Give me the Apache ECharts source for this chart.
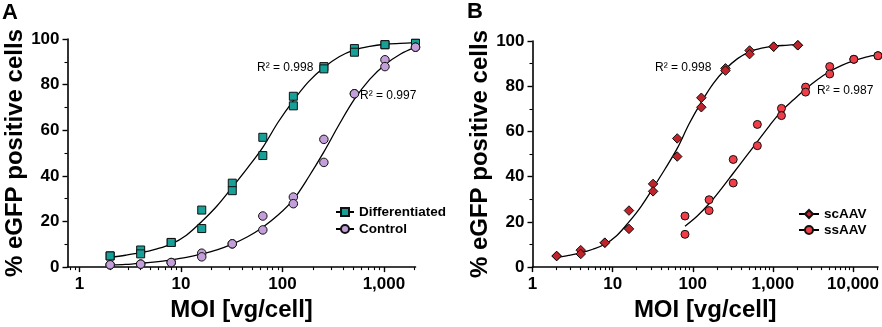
<!DOCTYPE html>
<html><head><meta charset="utf-8">
<script src="https://cdn.jsdelivr.net/npm/echarts@6/dist/echarts.min.js"></script>
<style>html,body{margin:0;padding:0;background:#fff}#c{width:882px;height:327px}</style>
</head><body><div id="c"></div><script>
// ---------- data ----------
const moiA = [2, 4, 8, 16, 32, 64, 128, 256, 512, 1024, 2048];
const diffRep1 = [4.9, 7.5, 10.8, 25.0, 36.8, 56.9, 74.9, 87.9, 95.8, 97.5, 98.1];
const diffRep2 = [4.9, 5.8, 10.8, 16.9, 33.5, 48.9, 70.7, 86.9, 94.2, 97.5, 98.1];
const ctrlRep1 = [1.0, 1.3, 2.0, 6.1, 10.2, 22.4, 30.7, 56.0, 76.0, 90.9, 96.4];
const ctrlRep2 = [1.0, 1.3, 2.0, 4.5, 10.2, 16.3, 27.8, 45.9, 76.0, 87.9, 96.4];
const fitMoiA = [2, 2.83, 4, 5.66, 8, 11.3, 16, 22.6, 32, 45.3, 64, 90.5, 128, 181, 256, 362, 512, 724, 1024, 1448, 2048];
const diffFit = [4.3, 5.2, 6.3, 7.9, 10.1, 14.0, 20.0, 26.8, 35.0, 43.5, 52.5, 63.5, 73.0, 81.3, 87.5, 92.2, 95.2, 96.8, 97.7, 98.1, 98.4];
const ctrlFit = [0.9, 1.2, 1.7, 2.3, 3.2, 4.3, 5.8, 7.6, 10.1, 13.3, 17.5, 22.8, 29.6, 39.5, 50.5, 62.5, 73.6, 82.3, 88.7, 93.3, 96.4];
// panel B: scAAV identical to Differentiated
const scRep1 = diffRep1, scRep2 = diffRep2, scFit = diffFit;
const moiSs = [80, 160, 320, 640, 1280, 2560, 5120, 10240, 20480];
const ssRep1 = [22.6, 29.8, 47.6, 63.1, 70.2, 79.6, 88.7, 91.9, 93.5];
const ssRep2 = [14.5, 25.0, 37.2, 53.7, 67.0, 77.4, 85.4, 91.9, 93.5];
const fitMoiSs = [80, 113, 160, 226, 320, 453, 640, 905, 1280, 1810, 2560, 3620, 5120, 7240, 10240, 14480, 20480];
const ssFit = [18.1, 22.5, 28.0, 34.5, 41.5, 48.5, 55.5, 62.5, 69.0, 74.0, 78.8, 83.0, 86.5, 89.2, 91.3, 92.9, 94.0];
const xMajorA = [1, 10, 100, 1000];
const xMajorB = [1, 10, 100, 1000, 10000];
const xRangeA = [0.76, 2048];
const xRangeB = [1, 20480];
const r2Labels = ['R² = 0.998', 'R² = 0.997', 'R² = 0.998', 'R² = 0.987'];
const namesA = ['Differentiated', 'Control'];
const namesB = ['scAAV', 'ssAAV'];

// ---------- helpers ----------
const L = Math.log10;
const pts = (x, ys) => x.map((m, i) => [L(m), ys[i]]);
const reps = (x, a, b) => pts(x, a).concat(pts(x, b));
function minors(lo, hi) {
  const out = [];
  for (let d = Math.floor(L(lo)); d <= Math.ceil(L(hi)); d++)
    for (let k = 2; k <= 9; k++) {
      const v = k * Math.pow(10, d);
      if (v >= lo && v <= hi) out.push(L(v));
    }
  return out;
}
const FONT = "'Liberation Sans', Arial, Helvetica, sans-serif";
const fmt = v => Math.round(Math.pow(10, v)).toLocaleString('en-US');

function xAxes(g, range, majors) {
  const base = { gridIndex: g, type: 'value', min: L(range[0]), max: L(range[1]), splitLine: { show: false } };
  return [
    Object.assign({}, base, {
      position: 'bottom',
      name: 'MOI [vg/cell]', nameLocation: 'middle', nameGap: 27,
      nameTextStyle: { fontFamily: FONT, fontWeight: 'bold', fontSize: 24, color: '#000' },
      axisLine: { show: true, onZero: false, lineStyle: { color: '#000', width: 1.6 } },
      axisTick: { show: true, length: 5, customValues: majors.map(L), lineStyle: { color: '#000', width: 1.4 } },
      axisLabel: { show: true, customValues: majors.map(L), formatter: fmt, margin: 9,
        fontFamily: FONT, fontWeight: 'bold', fontSize: 17, color: '#000' }
    }),
    Object.assign({}, base, {
      position: 'bottom',
      axisLine: { show: false, onZero: false },
      axisTick: { show: true, length: 3, customValues: minors(range[0], range[1]), lineStyle: { color: '#000', width: 1.1 } },
      axisLabel: { show: false }
    })
  ];
}
function yAxis(g) {
  return {
    gridIndex: g, type: 'value', min: 0, max: 100, interval: 20,
    name: '% eGFP positive cells', nameLocation: 'middle', nameGap: 40,
    nameTextStyle: { fontFamily: FONT, fontWeight: 'bold', fontSize: 24, color: '#000' },
    axisLine: { show: true, onZero: false, lineStyle: { color: '#000', width: 1.6 } },
    axisTick: { show: true, length: 5, lineStyle: { color: '#000', width: 1.4 } },
    minorTick: { show: true, splitNumber: 2, length: 3, lineStyle: { color: '#000', width: 1.1 } },
    splitLine: { show: false },
    axisLabel: { margin: 8, fontFamily: FONT, fontWeight: 'bold', fontSize: 17, color: '#000' }
  };
}
function scatter(name, xi, yi, data, symbol, size, color) {
  return { type: 'scatter', name: name + ' data', xAxisIndex: xi, yAxisIndex: yi, data, symbol, symbolSize: size, z: 5,
    itemStyle: { color, borderColor: '#111', borderWidth: 1, opacity: 1 }, emphasis: { disabled: true } };
}
function fit(name, xi, yi, data, symbol, size, color) {
  return { type: 'line', name, xAxisIndex: xi, yAxisIndex: yi, data, smooth: 0.35, showSymbol: false,
    symbol, symbolSize: size, z: 3,
    lineStyle: { color: '#000', width: 1.3 }, itemStyle: { color, borderColor: '#111', borderWidth: 1 },
    emphasis: { disabled: true } };
}
const TEAL = '#17a097', PURPLE = '#c39fd9', DRED = '#c1232b', RED = '#f23d48';

const chart = echarts.init(document.getElementById('c'), null, { renderer: 'canvas' });
const legendText = { fontFamily: FONT, fontWeight: 'bold', fontSize: 13.5, color: '#000' };
chart.setOption({
  animation: false,
  backgroundColor: '#fff',
  grid: [
    { left: 67.5, top: 39, width: 348, height: 231 },
    { left: 532.5, top: 41, width: 346.2, height: 230 }
  ],
  xAxis: xAxes(0, xRangeA, xMajorA).concat(xAxes(1, xRangeB, xMajorB)),
  yAxis: [yAxis(0), yAxis(1)],
  legend: [
    { data: namesA, orient: 'vertical', left: 330, top: 200, itemWidth: 18, itemHeight: 10, itemGap: 3,
      textStyle: legendText, selectedMode: false },
    { data: namesB, orient: 'vertical', left: 793, top: 202, itemWidth: 20, itemHeight: 10, itemGap: 2,
      textStyle: legendText, selectedMode: false }
  ],
  series: [
    fit(namesA[0], 0, 0, pts(fitMoiA, diffFit), 'rect', 8, TEAL),
    fit(namesA[1], 0, 0, pts(fitMoiA, ctrlFit), 'circle', 8, PURPLE),
    scatter(namesA[0], 0, 0, reps(moiA, diffRep1, diffRep2), 'rect', 8, TEAL),
    scatter(namesA[1], 0, 0, reps(moiA, ctrlRep1, ctrlRep2), 'circle', 8.5, PURPLE),
    fit(namesB[0], 2, 1, pts(fitMoiA, scFit), 'diamond', 9, DRED),
    fit(namesB[1], 2, 1, pts(fitMoiSs, ssFit), 'circle', 8, RED),
    scatter(namesB[0], 2, 1, reps(moiA, scRep1, scRep2), 'diamond', 9.5, DRED),
    scatter(namesB[1], 2, 1, reps(moiSs, ssRep1, ssRep2), 'circle', 8, RED)
  ],
  graphic: [
    { type: 'text', left: 2, top: 2, style: { text: 'A', font: `bold 22px ${FONT}`, fill: '#000' } },
    { type: 'text', left: 467, top: 1, style: { text: 'B', font: `bold 22px ${FONT}`, fill: '#000' } },
    { type: 'text', left: 257, top: 62, style: { text: r2Labels[0], font: `12px ${FONT}`, fill: '#000' } },
    { type: 'text', left: 360, top: 90, style: { text: r2Labels[1], font: `12px ${FONT}`, fill: '#000' } },
    { type: 'text', left: 655, top: 62, style: { text: r2Labels[2], font: `12px ${FONT}`, fill: '#000' } },
    { type: 'text', left: 817, top: 85, style: { text: r2Labels[3], font: `12px ${FONT}`, fill: '#000' } }
  ]
});
</script></body></html>
